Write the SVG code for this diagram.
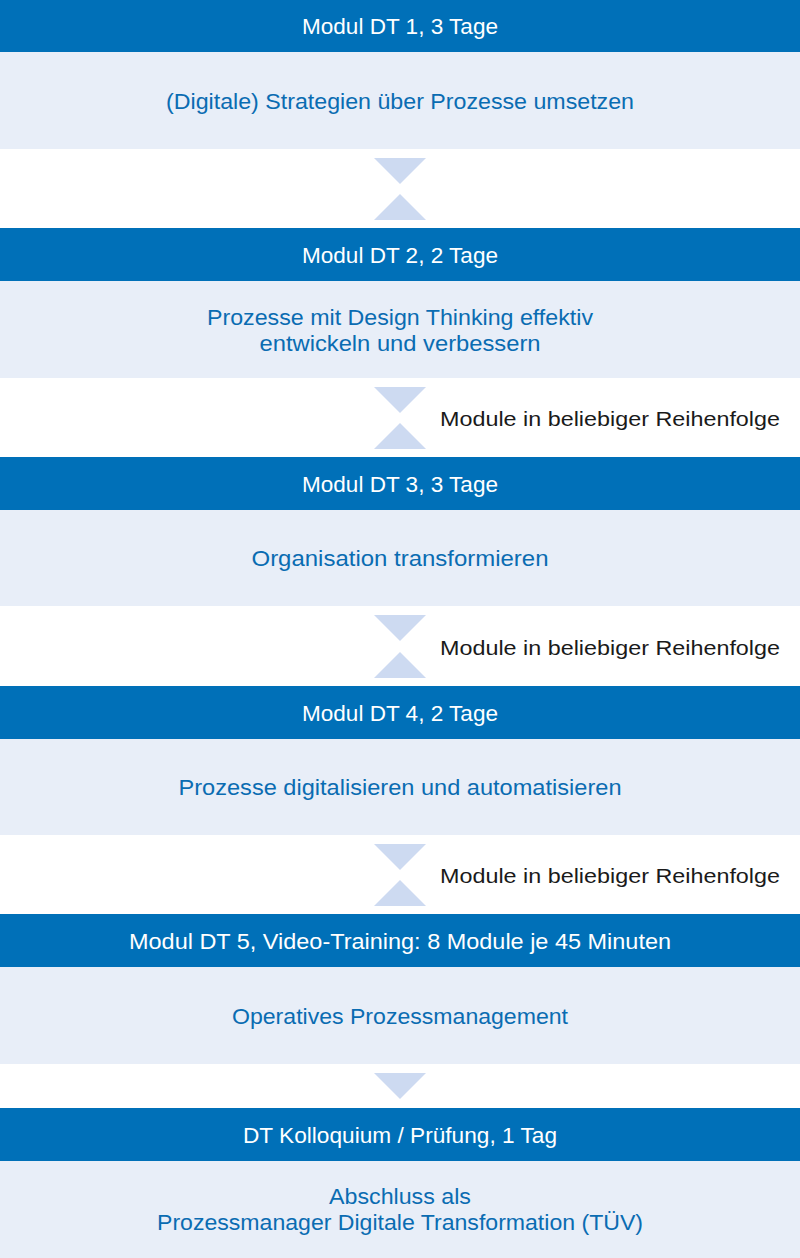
<svg xmlns="http://www.w3.org/2000/svg" width="800" height="1258" viewBox="0 0 800 1258">
<style>
.hd{fill:#0070B8}
.bx{fill:#E8EEF8}
.tri{fill:#CDDAF1}
.ht{font-family:"Liberation Sans",Arial,sans-serif;font-size:22px;fill:#FFFFFF;text-anchor:middle}
.bt{font-family:"Liberation Sans",Arial,sans-serif;font-size:22px;fill:#0A6CB2;text-anchor:middle}
.st{font-family:"Liberation Sans",Arial,sans-serif;font-size:21px;fill:#1A1A1A}
</style>
<rect width="800" height="1258" fill="#FFFFFF"/>
<g id="m1">
<rect class="hd" x="0" y="0" width="800" height="52"/>
<text class="ht" x="400" y="34" textLength="196" lengthAdjust="spacingAndGlyphs">Modul DT 1, 3 Tage</text>
<rect class="bx" x="0" y="52" width="800" height="97"/>
<text class="bt" x="400" y="109" textLength="468" lengthAdjust="spacingAndGlyphs">(Digitale) Strategien über Prozesse umsetzen</text>
</g>
<g id="m2">
<rect class="hd" x="0" y="228" width="800" height="53"/>
<text class="ht" x="400" y="263" textLength="196" lengthAdjust="spacingAndGlyphs">Modul DT 2, 2 Tage</text>
<rect class="bx" x="0" y="281" width="800" height="97"/>
<text class="bt" x="400" y="325" textLength="386" lengthAdjust="spacingAndGlyphs">Prozesse mit Design Thinking effektiv</text>
<text class="bt" x="400" y="351" textLength="281" lengthAdjust="spacingAndGlyphs">entwickeln und verbessern</text>
</g>
<g id="m3">
<rect class="hd" x="0" y="457" width="800" height="53"/>
<text class="ht" x="400" y="492" textLength="196" lengthAdjust="spacingAndGlyphs">Modul DT 3, 3 Tage</text>
<rect class="bx" x="0" y="510" width="800" height="96"/>
<text class="bt" x="400" y="566" textLength="297" lengthAdjust="spacingAndGlyphs">Organisation transformieren</text>
</g>
<g id="m4">
<rect class="hd" x="0" y="686" width="800" height="53"/>
<text class="ht" x="400" y="721" textLength="196" lengthAdjust="spacingAndGlyphs">Modul DT 4, 2 Tage</text>
<rect class="bx" x="0" y="739" width="800" height="96"/>
<text class="bt" x="400" y="795" textLength="443" lengthAdjust="spacingAndGlyphs">Prozesse digitalisieren und automatisieren</text>
</g>
<g id="m5">
<rect class="hd" x="0" y="914" width="800" height="53"/>
<text class="ht" x="400" y="949" textLength="542" lengthAdjust="spacingAndGlyphs">Modul DT 5, Video-Training: 8 Module je 45 Minuten</text>
<rect class="bx" x="0" y="967" width="800" height="97"/>
<text class="bt" x="400" y="1024" textLength="336" lengthAdjust="spacingAndGlyphs">Operatives Prozessmanagement</text>
</g>
<g id="m6">
<rect class="hd" x="0" y="1108" width="800" height="53"/>
<text class="ht" x="400" y="1143" textLength="314" lengthAdjust="spacingAndGlyphs">DT Kolloquium / Prüfung, 1 Tag</text>
<rect class="bx" x="0" y="1161" width="800" height="97"/>
<text class="bt" x="400" y="1204" textLength="142" lengthAdjust="spacingAndGlyphs">Abschluss als</text>
<text class="bt" x="400" y="1230" textLength="486" lengthAdjust="spacingAndGlyphs">Prozessmanager Digitale Transformation (TÜV)</text>
</g>
<g id="connectors">
<polygon class="tri" points="374,158 426,158 400,184"/>
<polygon class="tri" points="374,220 426,220 400,194"/>
<polygon class="tri" points="374,387 426,387 400,413"/>
<polygon class="tri" points="374,449 426,449 400,423"/>
<polygon class="tri" points="374,615 426,615 400,641"/>
<polygon class="tri" points="374,678 426,678 400,652"/>
<polygon class="tri" points="374,844 426,844 400,870"/>
<polygon class="tri" points="374,906 426,906 400,880"/>
<polygon class="tri" points="374,1073 426,1073 400,1099"/>
<text class="st" x="440" y="426" textLength="340" lengthAdjust="spacingAndGlyphs">Module in beliebiger Reihenfolge</text>
<text class="st" x="440" y="655" textLength="340" lengthAdjust="spacingAndGlyphs">Module in beliebiger Reihenfolge</text>
<text class="st" x="440" y="883" textLength="340" lengthAdjust="spacingAndGlyphs">Module in beliebiger Reihenfolge</text>
</g>
</svg>
